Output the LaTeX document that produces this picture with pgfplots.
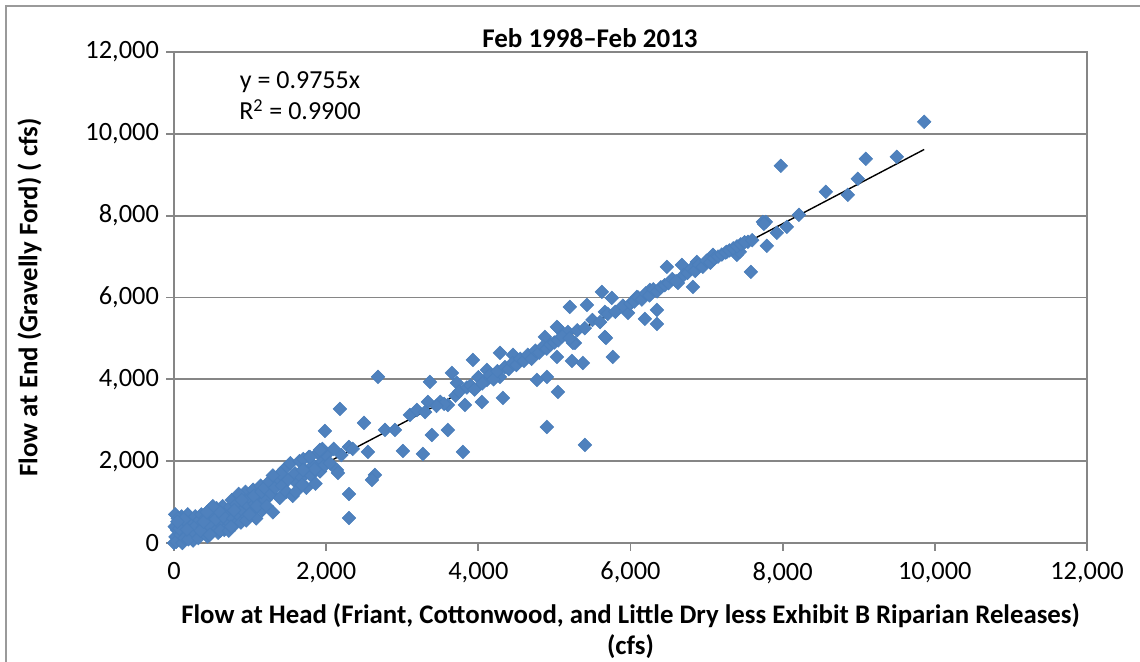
\documentclass[border=0pt]{standalone}
\usepackage{fontspec}
\setmainfont{Carlito}
\usepackage{pgfplots}
\usepackage{pgfplotstable}
\pgfplotsset{compat=1.18}
\definecolor{mk}{HTML}{4F81BD}
\definecolor{mkb}{HTML}{4A7EBB}
\definecolor{grd}{HTML}{868686}
\definecolor{frm}{HTML}{9A9A9A}
\pgfplotstableread{
x y
0 0
20 150
40 320
60 80
80 500
100 650
15 700
50 600
120 420
150 250
30 30
90 200
110 0
140 120
160 560
180 700
200 380
220 150
250 60
260 480
280 650
300 250
10 400
70 350
130 580
190 90
240 300
290 420
45 520
170 330
320 120
340 560
360 700
380 380
400 250
420 620
440 160
460 800
480 500
500 300
520 700
540 420
560 850
580 250
600 600
620 450
640 900
660 320
680 720
700 550
350 300
450 450
550 580
650 650
390 520
470 200
590 780
610 300
510 900
430 750
720 300
740 880
760 1050
780 600
800 450
820 950
840 700
860 1150
880 500
900 800
920 1000
940 1250
960 650
980 900
1000 1100
1020 750
1040 1300
1060 950
1080 600
1100 1200
1120 1000
1140 1400
1160 800
1180 1150
1200 1050
750 400
850 1200
950 550
1050 1150
1150 1250
790 800
890 1050
990 700
1090 900
1190 1350
1220 900
1250 1500
1280 1200
1300 750
1330 1350
1360 1600
1390 1100
1420 1400
1450 1800
1480 1250
1500 1550
1530 1950
1560 1150
1590 1700
1620 1450
1650 2000
1680 1600
1710 1800
1740 1350
1770 2100
1800 1650
1830 1900
1860 1450
1890 2200
1920 1750
1950 2000
1980 1900
2000 2150
1400 1700
1700 2050
1850 1800
1600 1250
1300 1650
1950 2300
2050 1950
2100 2300
1918 2274
1787 2103
1695 1785
2142 1785
1682 1418
1984 2738
2181 3276
2497 2934
2300 2347
2549 2225
2641 1663
2602 1540
2300 1198
2300 611
2681 4059
2155 1712
2200 2150
2350 2300
3009 2249
3272 2176
3798 2225
2773 2763
2904 2763
3390 2640
3600 2763
3101 3130
3193 3252
3338 3447
3364 3936
3600 3374
3824 3374
4047 3447
4323 3545
3653 4157
3719 3912
3929 4474
4113 4230
4284 4646
4455 4597
4113 3985
4284 4059
3500 3450
3550 3400
3450 3350
3700 3600
3750 3700
3850 3800
3900 3850
3950 3750
4000 4050
4050 3900
4150 4100
4200 4000
4250 4200
3300 3200
4901 2836
5401 2396
4901 4059
4770 3985
5046 3692
5230 4450
5374 4401
5269 4890
5033 4548
5677 5012
5768 4548
5046 5257
5177 5159
4875 5037
5243 4890
5663 5037
5033 5281
5203 5770
5427 5819
5663 5648
5966 5624
6347 5697
6189 5477
6347 5355
5624 6137
5755 5990
6084 6015
6255 6186
6478 6748
6675 6797
6872 6870
6623 6357
6820 6259
7083 7042
7266 7115
7398 7042
7543 7360
7582 6626
7792 7262
7779 7848
7740 7848
7753 7800
8055 7726
7923 7580
7437 7115
8213 8020
8567 8582
8856 8509
8988 8900
9093 9389
9500 9438
7976 9218
9860 10293
4350 4300
4400 4250
4450 4400
4500 4350
4550 4500
4600 4450
4650 4600
4700 4500
4750 4700
4800 4650
4850 4800
4900 4750
4950 4850
5000 4900
5050 4950
5100 5050
5200 5000
5300 5200
5400 5250
5500 5450
5600 5400
5700 5600
5800 5650
5900 5800
6000 5850
6050 5900
6100 6000
6150 5950
6200 6100
6250 6050
6300 6200
6350 6150
6400 6250
6450 6300
6500 6350
6550 6450
6600 6400
6700 6550
6750 6600
6800 6700
6850 6650
6900 6800
6950 6750
7000 6900
7050 6850
7100 6950
7150 7000
7200 7050
7250 7100
7300 7150
7350 7200
7400 7250
7450 7300
7500 7350
7600 7400
}\flowdata
\begin{document}
\begin{tikzpicture}[x=1pt,y=1pt]
\useasboundingbox (0,0) rectangle (570,331);
\draw[frm,line width=1pt] (3,-5) -- (3,328) -- (575,328);
\begin{axis}[
  at={(87pt,59.5pt)}, anchor=south west,
  scale only axis, width=456.5pt, height=245.5pt,
  xmin=0, xmax=12000, ymin=0, ymax=12000,
  xtick={0,2000,...,12000}, ytick={0,2000,...,12000},
  /pgf/number format/.cd, 1000 sep={,}, assume math mode=true, /pgfplots/.cd,
  scaled ticks=false,
  tick label style={font=\fontsize{13.2}{15}\selectfont, color=black},
  axis line style={grd, line width=0.9pt},
  ymajorgrids, grid style={grd, line width=0.9pt},
  tick style={grd, line width=0.9pt},
  tick align=outside, major tick length=4pt,
  xtick pos=bottom, ytick pos=left,
  xticklabel style={yshift=-2pt},
  yticklabel style={xshift=0pt},
  xlabel={Flow at Head (Friant, Cottonwood, and Little Dry less Exhibit B Riparian Releases)\\(cfs)},
  xlabel style={font=\bfseries\fontsize{13.4}{15.5}\selectfont, align=center, yshift=-3pt},
  ylabel={Flow at End (Gravelly Ford) ( cfs)},
  ylabel style={font=\bfseries\fontsize{13.4}{15}\selectfont, yshift=15pt},
  clip=false,
]
\addplot[only marks, mark=square*, mark size=2.4pt,
  mark options={fill=mk, draw=mkb, rotate=45, line width=0.3pt}]
  table[x=x,y=y]{\flowdata};
\addplot[black, line width=0.7pt] coordinates {(0,0) (9860,9618)};
\end{axis}
\node[font=\bfseries\fontsize{13.5}{16}\selectfont] at (295,312) {Feb 1998–Feb 2013};
\node[font=\fontsize{13}{15.5}\selectfont, align=center] at (150,283)
  {y = 0.9755x\\R\textsuperscript{2} = 0.9900};
\end{tikzpicture}
\end{document}
